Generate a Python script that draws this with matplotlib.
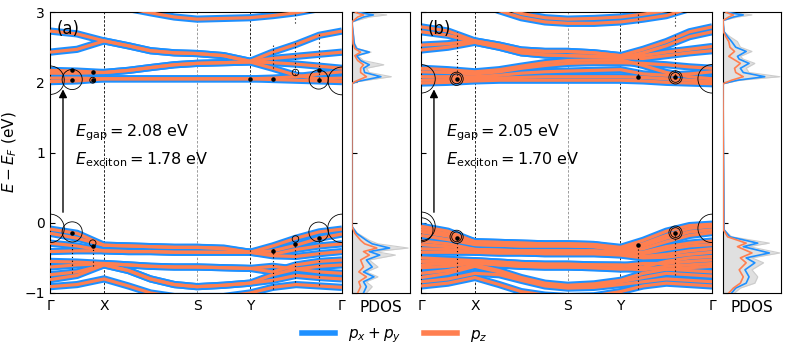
#!/usr/bin/env python3
"""Fat-band structure + PDOS for two structures (a) and (b)."""

import matplotlib
matplotlib.use("Agg")
import matplotlib.pyplot as plt
from matplotlib.lines import Line2D
import numpy as np

BLUE = "#1e90ff"
ORANGE = "#ff7f50"

# k path: Γ - X - S - Y - Γ (scaled to path length)
K_TICKS = [0.0, 1.0, 2.72, 3.70, 5.40]
K_LABELS = ["Γ", "X", "S", "Y", "Γ"]
K = [0.0, 0.5, 1.0, 1.45, 1.86, 2.30, 2.72, 3.21, 3.70, 4.12, 4.55, 4.98, 5.40]

# ---- panel (a) bands (eV) ----
bands_a = [
    [3.35, 3.25, 3.15, 3.05, 2.99, 2.93, 2.90, 2.91, 2.92, 2.95, 2.99, 3.05, 3.10],
    [2.73, 2.69, 2.59, 2.52, 2.45, 2.42, 2.41, 2.38, 2.30, 2.43, 2.54, 2.67, 2.73],
    [2.43, 2.47, 2.59, 2.52, 2.45, 2.42, 2.41, 2.38, 2.30, 2.34, 2.37, 2.40, 2.43],
    [2.17, 2.16, 2.14, 2.17, 2.21, 2.25, 2.27, 2.28, 2.29, 2.20, 2.10, 2.05, 2.06],
    [2.13, 2.13, 2.14, 2.17, 2.21, 2.25, 2.27, 2.28, 2.29, 2.28, 2.26, 2.23, 2.20],
    [2.06, 2.06, 2.05, 2.05, 2.05, 2.05, 2.05, 2.05, 2.05, 2.06, 2.08, 2.12, 2.15],
    [2.01, 2.02, 2.05, 2.05, 2.05, 2.05, 2.05, 2.05, 2.05, 2.04, 2.03, 2.02, 2.01],
    [-0.09, -0.15, -0.32, -0.33, -0.34, -0.35, -0.35, -0.36, -0.42, -0.33, -0.22, -0.13, -0.09],
    [-0.15, -0.22, -0.32, -0.33, -0.34, -0.35, -0.35, -0.37, -0.42, -0.40, -0.32, -0.22, -0.16],
    [-0.29, -0.33, -0.40, -0.41, -0.41, -0.42, -0.42, -0.42, -0.42, -0.45, -0.38, -0.33, -0.30],
    [-0.41, -0.40, -0.40, -0.41, -0.41, -0.42, -0.42, -0.42, -0.42, -0.47, -0.48, -0.44, -0.41],
    [-0.55, -0.56, -0.58, -0.60, -0.62, -0.63, -0.63, -0.64, -0.65, -0.70, -0.60, -0.55, -0.53],
    [-0.63, -0.60, -0.58, -0.60, -0.62, -0.63, -0.63, -0.64, -0.65, -0.62, -0.66, -0.62, -0.60],
    [-0.74, -0.70, -0.60, -0.68, -0.80, -0.88, -0.91, -0.89, -0.86, -0.74, -0.66, -0.70, -0.72],
    [-0.81, -0.75, -0.60, -0.68, -0.80, -0.88, -0.91, -0.89, -0.86, -0.82, -0.75, -0.78, -0.80],
    [-0.91, -0.88, -0.80, -0.90, -1.00, -1.05, -1.05, -1.05, -1.00, -0.92, -0.88, -0.90, -0.92],
]

# ---- panel (b) bands (eV) ----
bands_b = [
    [3.35, 3.30, 3.20, 3.08, 2.98, 2.92, 2.90, 2.91, 2.93, 2.97, 3.02, 3.10, 3.20],
    [3.30, 3.25, 3.15, 3.02, 2.92, 2.86, 2.84, 2.84, 2.86, 2.90, 2.95, 3.05, 3.15],
    [2.79, 2.73, 2.59, 2.53, 2.46, 2.44, 2.44, 2.42, 2.38, 2.47, 2.58, 2.72, 2.79],
    [2.72, 2.67, 2.57, 2.50, 2.42, 2.39, 2.38, 2.37, 2.35, 2.42, 2.52, 2.65, 2.72],
    [2.53, 2.55, 2.59, 2.53, 2.46, 2.44, 2.44, 2.42, 2.38, 2.38, 2.43, 2.47, 2.51],
    [2.46, 2.50, 2.57, 2.50, 2.42, 2.39, 2.38, 2.37, 2.35, 2.34, 2.38, 2.42, 2.45],
    [2.20, 2.18, 2.15, 2.18, 2.23, 2.28, 2.31, 2.32, 2.32, 2.24, 2.14, 2.08, 2.05],
    [2.15, 2.14, 2.12, 2.15, 2.20, 2.24, 2.27, 2.28, 2.28, 2.27, 2.25, 2.22, 2.20],
    [2.08, 2.08, 2.08, 2.10, 2.13, 2.15, 2.16, 2.17, 2.18, 2.12, 2.10, 2.12, 2.15],
    [2.03, 2.04, 2.05, 2.06, 2.07, 2.08, 2.08, 2.08, 2.08, 2.07, 2.05, 2.03, 2.01],
    [1.99, 2.00, 2.02, 2.03, 2.03, 2.03, 2.03, 2.03, 2.03, 2.02, 2.00, 1.99, 1.98],
    [-0.05, -0.12, -0.27, -0.28, -0.29, -0.30, -0.30, -0.31, -0.35, -0.25, -0.12, -0.04, -0.02],
    [-0.09, -0.16, -0.27, -0.28, -0.29, -0.30, -0.30, -0.31, -0.37, -0.30, -0.18, -0.08, -0.05],
    [-0.13, -0.19, -0.31, -0.32, -0.33, -0.33, -0.33, -0.34, -0.38, -0.33, -0.22, -0.13, -0.10],
    [-0.18, -0.24, -0.31, -0.32, -0.33, -0.33, -0.33, -0.34, -0.40, -0.37, -0.27, -0.18, -0.14],
    [-0.26, -0.30, -0.38, -0.39, -0.40, -0.40, -0.40, -0.40, -0.42, -0.42, -0.34, -0.29, -0.26],
    [-0.31, -0.34, -0.38, -0.39, -0.40, -0.40, -0.40, -0.40, -0.43, -0.44, -0.38, -0.33, -0.31],
    [-0.37, -0.38, -0.42, -0.43, -0.43, -0.44, -0.44, -0.44, -0.45, -0.48, -0.45, -0.40, -0.37],
    [-0.42, -0.42, -0.42, -0.43, -0.43, -0.44, -0.44, -0.44, -0.46, -0.50, -0.49, -0.45, -0.42],
    [-0.50, -0.52, -0.54, -0.56, -0.58, -0.59, -0.59, -0.60, -0.60, -0.63, -0.55, -0.50, -0.48],
    [-0.55, -0.55, -0.54, -0.56, -0.58, -0.59, -0.59, -0.60, -0.61, -0.58, -0.58, -0.55, -0.53],
    [-0.60, -0.58, -0.57, -0.60, -0.62, -0.63, -0.63, -0.64, -0.65, -0.67, -0.62, -0.60, -0.58],
    [-0.64, -0.62, -0.57, -0.60, -0.62, -0.63, -0.63, -0.64, -0.66, -0.64, -0.66, -0.64, -0.62],
    [-0.72, -0.68, -0.60, -0.68, -0.78, -0.86, -0.89, -0.87, -0.82, -0.72, -0.66, -0.68, -0.70],
    [-0.78, -0.72, -0.62, -0.70, -0.80, -0.88, -0.91, -0.89, -0.84, -0.78, -0.72, -0.74, -0.76],
    [-0.84, -0.80, -0.72, -0.74, -0.82, -0.90, -0.93, -0.92, -0.88, -0.84, -0.80, -0.82, -0.84],
    [-0.90, -0.86, -0.78, -0.88, -0.98, -1.03, -1.05, -1.04, -0.98, -0.90, -0.86, -0.88, -0.90],
]

# ---- PDOS (arb. units) ----
pdos_E_a = [-1.00, -0.91, -0.84, -0.77, -0.70, -0.63, -0.53, -0.46, -0.41, -0.36, -0.30,
            -0.25, -0.15, -0.05, 1.98, 2.01, 2.08, 2.14, 2.20, 2.25, 2.31, 2.38, 2.43,
            2.48, 2.55, 2.72, 2.86, 2.93, 2.96, 2.99, 3.00]
pdos_tot_a = [0.25, 0.35, 0.25, 0.45, 0.25, 0.45, 0.30, 0.75, 0.40, 0.97, 0.45,
              0.30, 0.10, 0.0, 0.0, 0.10, 0.68, 0.30, 0.25, 0.55, 0.20, 0.10, 0.33,
              0.10, 0.05, 0.02, 0.0, 0.30, 0.60, 0.25, 0.20]
pdos_pxy_a = [0.20, 0.25, 0.20, 0.38, 0.20, 0.35, 0.25, 0.48, 0.30, 0.65, 0.35,
              0.25, 0.08, 0.0, 0.0, 0.08, 0.50, 0.22, 0.20, 0.30, 0.15, 0.08, 0.30,
              0.08, 0.04, 0.02, 0.0, 0.20, 0.37, 0.15, 0.12]
pdos_pz_a = [0.10, 0.15, 0.12, 0.25, 0.12, 0.20, 0.15, 0.30, 0.20, 0.43, 0.22,
             0.15, 0.05, 0.0, 0.0, 0.05, 0.25, 0.15, 0.15, 0.20, 0.10, 0.05, 0.15,
             0.05, 0.02, 0.01, 0.0, 0.10, 0.20, 0.08, 0.06]

pdos_E_b = [-1.00, -0.93, -0.86, -0.77, -0.67, -0.57, -0.50, -0.43, -0.34, -0.29,
            -0.20, -0.10, 1.98, 2.03, 2.08, 2.14, 2.20, 2.27, 2.33, 2.37, 2.44, 2.50,
            2.58, 2.65, 2.72, 2.88, 2.93, 2.96, 2.99, 3.00]
pdos_tot_b = [0.20, 0.30, 0.55, 0.60, 0.50, 0.70, 0.50, 0.98, 0.45, 0.80,
              0.15, 0.02, 0.0, 0.30, 0.98, 0.45, 0.40, 0.55, 0.35, 0.30, 0.50, 0.30,
              0.25, 0.12, 0.02, 0.0, 0.25, 0.50, 0.20, 0.15]
pdos_pxy_b = [0.15, 0.22, 0.40, 0.45, 0.38, 0.55, 0.40, 0.80, 0.35, 0.60,
              0.12, 0.02, 0.0, 0.25, 0.72, 0.35, 0.30, 0.45, 0.28, 0.25, 0.40, 0.22,
              0.15, 0.08, 0.02, 0.0, 0.18, 0.35, 0.12, 0.10]
pdos_pz_b = [0.10, 0.18, 0.30, 0.35, 0.28, 0.40, 0.30, 0.50, 0.25, 0.40,
             0.08, 0.01, 0.0, 0.15, 0.35, 0.22, 0.20, 0.30, 0.18, 0.10, 0.20, 0.12,
             0.10, 0.05, 0.01, 0.0, 0.10, 0.18, 0.07, 0.05]

# ---- exciton markers: open circles (k, E, size) ----
circ_a_k = [0.0, 0.41, 0.79, 4.54, 4.97, 5.40, 0.0, 0.41, 0.79, 4.54, 4.97, 5.40]
circ_a_E = [2.03, 2.04, 2.03, 2.14, 2.04, 2.02, -0.08, -0.13, -0.29, -0.23, -0.13, -0.08]
circ_a_s = [420, 210, 18, 22, 190, 400, 420, 210, 22, 22, 200, 420]

circ_b_k = [0.0, 0.66, 0.66, 4.72, 4.72, 5.40, 0.0, 0.0, 0.66, 0.66, 4.72, 4.72, 5.40]
circ_b_E = [2.05, 2.05, 2.05, 2.07, 2.07, 2.05, -0.05, -0.10, -0.20, -0.20, -0.14, -0.14, -0.08]
circ_b_s = [420, 90, 50, 90, 50, 420, 420, 300, 90, 50, 90, 50, 420]

# filled dots (k, E)
dot_a_k = [0.41, 0.41, 0.79, 0.79, 3.70, 4.12, 4.97, 4.97, 0.41, 0.79, 4.12, 4.54, 4.97]
dot_a_E = [2.17, 2.04, 2.14, 2.04, 2.05, 2.05, 2.17, 2.04, -0.14, -0.33, -0.40, -0.30, -0.22]
dot_b_k = [0.66, 4.02, 4.72, 0.66, 4.02, 4.72]
dot_b_E = [2.05, 2.07, 2.07, -0.22, -0.32, -0.14]

# vertical dotted exciton weight segments (k, E_low, E_high)
seg_a_k = [0.41, 0.79, 3.70, 4.12, 4.54, 4.97, 4.12, 4.54, 4.97, 4.54, 4.12]
seg_a_lo = [-0.72, -0.62, -0.46, -0.95, -0.85, -0.88, 2.20, 2.10, 2.00, 2.85, 2.40]
seg_a_hi = [-0.30, -0.30, -0.36, -0.35, -0.30, -0.25, 2.38, 2.58, 2.70, 3.00, 2.55]
seg_b_k = [0.66, 4.02, 4.72, 0.66, 4.02, 4.72, 4.02, 4.72]
seg_b_lo = [-0.75, -0.95, -0.75, 2.05, 2.10, 2.10, 2.85, 2.80]
seg_b_hi = [-0.20, -0.30, -0.14, 2.72, 2.35, 2.70, 3.00, 3.00]

E_GAP = [2.08, 2.05]
E_EXC = [1.78, 1.70]
ARROW_K = 0.24


def draw_bands(ax, bands, circ, dots, segs):
    for b in bands:
        ax.plot(K, b, color=BLUE, lw=5.2, solid_capstyle="butt", zorder=2)
    for b in bands:
        ax.plot(K, b, color=ORANGE, lw=2.3, solid_capstyle="butt", zorder=3)
    for x in K_TICKS[1:-1]:
        ax.axvline(x, color="k" if x != 2.72 else "0.55", lw=0.6, ls=(0, (3, 2)), zorder=1)
    for k, lo, hi in zip(*segs):
        ax.plot([k, k], [lo, hi], color="k", lw=0.8, ls=(0, (1, 2.5)), zorder=4)
    ax.scatter(dots[0], dots[1], s=5, color="k", zorder=5)
    ax.scatter(circ[0], circ[1], s=circ[2], facecolors="none", edgecolors="k",
               linewidths=0.6, zorder=5)
    ax.set_xlim(K_TICKS[0], K_TICKS[-1])
    ax.set_ylim(-1, 3)
    ax.set_xticks(K_TICKS)
    ax.set_xticklabels(K_LABELS, fontsize=10)
    ax.set_yticks([-1, 0, 1, 2, 3])
    ax.tick_params(axis="x", length=0, pad=4)
    ax.tick_params(axis="y", direction="in", labelsize=10)


def draw_pdos(ax, E, tot, pxy, pz):
    ax.fill_betweenx(E, 0, tot, color="0.88", lw=0, zorder=1)
    ax.plot(tot, E, color="0.8", lw=0.8, zorder=2)
    ax.plot(pxy, E, color=BLUE, lw=1.2, zorder=3)
    ax.plot(pz, E, color=ORANGE, lw=1.2, zorder=4)
    ax.set_xlim(0, 1)
    ax.set_ylim(-1, 3)
    ax.set_xticks([])
    ax.set_yticks([-1, 0, 1, 2, 3])
    ax.set_yticklabels([])
    ax.tick_params(axis="y", direction="in")
    ax.set_xlabel("PDOS", fontsize=11, labelpad=5)


def main() -> None:
    fig = plt.figure(figsize=(7.89, 3.56), dpi=100)
    ax_a = fig.add_axes([0.0634, 0.177, 0.370, 0.789])
    pd_a = fig.add_axes([0.446, 0.177, 0.0735, 0.789])
    ax_b = fig.add_axes([0.5336, 0.177, 0.369, 0.789])
    pd_b = fig.add_axes([0.9163, 0.177, 0.0735, 0.789])

    draw_bands(ax_a, bands_a, (circ_a_k, circ_a_E, circ_a_s), (dot_a_k, dot_a_E),
               (seg_a_k, seg_a_lo, seg_a_hi))
    draw_bands(ax_b, bands_b, (circ_b_k, circ_b_E, circ_b_s), (dot_b_k, dot_b_E),
               (seg_b_k, seg_b_lo, seg_b_hi))
    ax_b.set_yticklabels([])
    ax_a.set_ylabel("$E - E_F$ (eV)", fontsize=11, labelpad=4)

    draw_pdos(pd_a, pdos_E_a, pdos_tot_a, pdos_pxy_a, pdos_pz_a)
    draw_pdos(pd_b, pdos_E_b, pdos_tot_b, pdos_pxy_b, pdos_pz_b)

    for ax, lab, eg, ex in zip([ax_a, ax_b], ["(a)", "(b)"], E_GAP, E_EXC):
        ax.text(0.022, 0.94, lab, transform=ax.transAxes, fontsize=12, va="center", zorder=6)
        ax.annotate("", xy=(ARROW_K, 1.90), xytext=(ARROW_K, 0.15),
                    arrowprops=dict(arrowstyle="-|>", color="k", lw=1.0,
                                    mutation_scale=12, shrinkA=0, shrinkB=0), zorder=6)
        ax.text(0.086, 0.569, rf"$E_{{\rm gap}} = {eg:.2f}$ eV", transform=ax.transAxes,
                fontsize=11.5, va="center")
        ax.text(0.086, 0.473, rf"$E_{{\rm exciton}} = {ex:.2f}$ eV", transform=ax.transAxes,
                fontsize=11.5, va="center")

    handles = [Line2D([], [], color=BLUE, lw=4), Line2D([], [], color=ORANGE, lw=4)]
    fig.legend(handles, ["$p_x + p_y$", "$p_z$"], loc="center", ncol=2,
               bbox_to_anchor=(0.5, 0.056), frameon=False, fontsize=11,
               handlelength=2.2, columnspacing=1.5)

    fig.savefig("out.png", dpi=100)
    plt.close(fig)


if __name__ == "__main__":
    main()
